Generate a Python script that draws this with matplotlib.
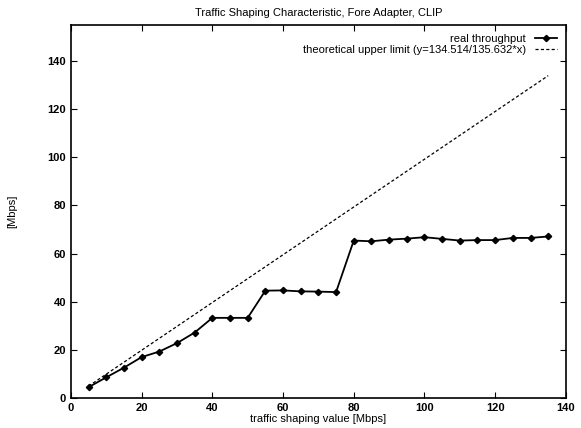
import numpy as np
import matplotlib
matplotlib.use("Agg")
import matplotlib.pyplot as plt

plt.rcParams['font.family'] = ['Liberation Sans', 'DejaVu Sans']

# shaping values and measured throughput
shaping = [5, 10, 15, 20, 25, 30, 35, 40, 45, 50, 55, 60, 65, 70,
           75, 80, 85, 90, 95, 100, 105, 110, 115, 120, 125, 130, 135]
throughput = [4.5, 8.6, 12.6, 17.0, 19.3, 22.8, 27.2, 33.3, 33.3, 33.3,
              44.6, 44.7, 44.3, 44.2, 44.0, 65.4, 65.1, 65.8, 66.2, 66.8,
              66.1, 65.4, 65.6, 65.6, 66.5, 66.5, 67.1]
slope = 134.514 / 135.632

x = np.array(shaping)

fig = plt.figure(figsize=(5.81, 4.28), dpi=100)
ax = fig.add_axes([0.122, 0.070, 0.852, 0.872])

ax.plot(x, throughput, color='black', lw=1.3, marker='D', markersize=3.2,
        label='real throughput')
ax.plot(x, slope * x, color='black', lw=0.9, linestyle=(0, (2.5, 1.8)),
        label='theoretical upper limit (y=134.514/135.632*x)')

ax.set_xlim(0, 140)
ax.set_ylim(0, 155)
ax.set_xticks(range(0, 141, 20))
ax.set_yticks(range(0, 141, 20))
ax.tick_params(direction='in', top=True, right=True, labelsize=8, length=4)
for lab in ax.get_xticklabels() + ax.get_yticklabels():
    lab.set_fontweight('bold')
for s in ax.spines.values():
    s.set_linewidth(1.2)

ax.set_title("Traffic Shaping Characteristic, Fore Adapter, CLIP", fontsize=8, pad=6)
ax.set_xlabel("traffic shaping value [Mbps]", fontsize=8, labelpad=1)
ax.set_ylabel("[Mbps]", fontsize=8, labelpad=22)

ax.legend(loc='upper right', frameon=False, markerfirst=False, fontsize=8,
          handlelength=2.0, borderaxespad=0.4, labelspacing=0.1)

fig.savefig("out.png", dpi=100)
